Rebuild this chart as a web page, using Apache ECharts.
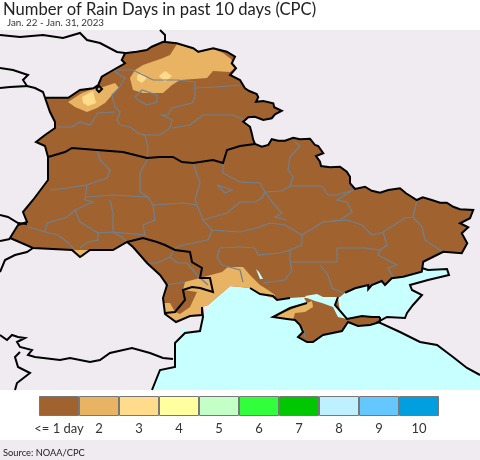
<!DOCTYPE html>
<html><head><meta charset="utf-8">
<style>html,body{margin:0;padding:0;background:#fff}#c{width:480px;height:460px}</style>
<script src="https://cdn.jsdelivr.net/npm/echarts@6/dist/echarts.min.js"></script>
</head><body><div id="c"></div>
<script>
var titleText="Number of Rain Days in past 10 days (CPC)";
var subtitleText="Jan. 22 - Jan. 31, 2023";
var sourceText="Source: NOAA/CPC";
var rainDayLabels=["<= 1 day","2","3","4","5","6","7","8","9","10"];
var rainDayValues=[1,2,3,4,5,6,7,8,9,10];
var rainDayColors=["#A0632F","#E8B464","#FFDC8C","#FFFFA0","#C4FFC8","#32FF3C","#00C800","#BEF0FF","#64C8FF","#00A0E0"];

// lon,lat vertices
var mapExtent=[21.6,56.6,40.8,42.2];
var outlineNorth=[23.40,53.89,24.33,53.89,24.80,54.20,25.33,54.27,25.53,54.40,25.67,54.73,26.13,55.00,26.60,55.27,26.47,55.40,26.60,55.67,27.07,55.73,27.47,55.80,27.67,55.93,28.13,56.13,28.67,56.07,29.33,55.87,29.53,55.73,30.13,55.87,30.67,55.73,31.00,55.53,30.87,55.27,31.04,55.07,30.80,54.80,31.20,54.60,31.40,54.27,31.57,54.16,31.87,54.04,31.93,53.91,31.84,53.73,32.13,53.76,32.53,53.67,32.57,53.51,32.87,53.37,32.60,53.23,32.47,53.07,32.13,53.00,31.80,53.13,31.53,53.11,31.33,52.93,31.60,52.73,31.67,52.47,31.73,52.20,31.80,52.04,32.07,51.93,32.33,52.00,32.47,52.23,32.73,52.17,33.00,52.17,33.33,52.29,33.60,52.23,34.00,52.25,34.20,52.00,34.33,51.96,34.53,51.67,34.24,51.56,34.40,51.33,34.44,51.16,34.80,51.11,35.20,51.13,35.47,50.93,35.60,50.73,35.60,50.47,35.80,50.24,36.20,50.33,36.47,50.17,36.80,50.09,37.13,50.20,37.60,50.27,37.84,50.07,38.27,49.80,38.51,49.91,38.87,49.80,39.20,49.69,39.47,49.69,39.73,49.53,40.00,49.43,40.53,49.40,40.40,49.07,40.00,48.87,40.33,48.71,40.07,48.47,40.29,48.07,40.07,47.67,39.33,47.73,38.93,47.53,38.53,47.33,38.47,46.93,37.73,46.73,37.27,46.67,37.00,46.40,36.87,46.56,36.47,46.40,36.33,46.23,36.33,46.40,35.80,46.27,35.40,46.09];
var outlineCoast=[35.40,46.09,35.20,45.92,34.28,45.92,33.80,45.92,33.20,45.88];
var outlineKherson=[33.20,45.88,32.68,45.80,32.52,45.96,32.00,46.04,31.60,46.28];
var outlineOdesa=[31.60,46.28,30.80,46.36,30.48,46.08,29.92,45.60,29.68,45.52];
var outlineSouthWest=[29.68,45.52,29.68,45.20,29.20,45.16,28.64,44.92,28.20,45.24,28.12,45.88,28.28,46.40,28.00,46.80,27.48,47.28,26.92,47.92,26.68,48.12,26.12,47.80,25.20,47.80,24.80,47.52,24.48,47.80,22.92,47.88,22.00,48.28,22.32,48.80,22.68,48.92,22.52,49.32,22.92,49.80,23.52,50.60,23.52,51.52,23.40,51.96,23.04,52.12,23.40,52.40,23.80,52.68,23.80,52.92,23.60,53.32,23.40,53.89];
var crimeaRing=[33.76,45.88,35.12,45.88,35.20,45.32,35.52,45.04,36.08,45.16,36.48,45.12,36.80,45.12,36.80,44.92,36.40,44.80,35.92,44.76,35.52,44.92,35.28,44.56,34.52,44.40,34.12,44.12,33.88,44.12,33.52,44.32,33.72,44.52,33.60,44.80,33.40,45.00,33.08,45.04,32.52,45.12,33.20,45.48,33.88,45.68];
var sivashRing=[33.80,45.96,34.28,46.04,34.60,45.88,34.92,45.88,35.12,45.92,35.00,45.60,35.48,45.04,35.12,45.12,34.92,45.52,34.48,45.68,34.20,45.76,33.88,45.88];
var seaRing=[27.68,42.20,28.00,43.00,28.60,43.12,28.60,44.08,29.00,44.48,29.60,44.56,29.72,45.12,30.20,46.00,31.60,46.60,35.40,46.40,38.40,47.20,38.72,47.08,39.48,47.12,39.56,46.80,38.72,46.60,38.00,46.40,38.08,46.20,38.48,46.00,38.12,45.60,37.88,45.28,37.80,45.08,37.08,45.12,36.72,44.92,37.60,44.52,38.40,44.12,39.08,44.00,39.72,43.52,40.28,43.08,40.80,42.80,40.80,42.20];
var ringDot=[25.44,54.24,25.56,54.36,25.68,54.24,25.56,54.12,25.44,54.24];
var lakeDanube=[28.80,44.60,29.00,44.72,29.08,44.60,28.92,44.48];
var lakeDnieper=[31.84,47.04,31.96,46.92,32.12,46.64,32.00,46.64];

var zoneNorth2=[28.68,56.04,29.32,55.84,29.52,55.68,30.12,55.84,30.52,55.68,30.84,55.44,30.92,55.28,31.00,55.08,30.80,54.92,30.12,54.96,29.88,54.68,28.80,54.60,28.48,54.40,28.12,54.08,27.32,54.08,26.92,54.20,26.80,54.68,27.00,55.00,27.32,55.20,28.12,55.48,28.40,55.60];
var zoneNorth3a=[27.08,54.80,27.28,54.88,27.48,54.68,27.28,54.48,27.08,54.60];
var zoneNorth3b=[27.96,54.76,28.20,54.96,28.48,54.76,28.20,54.52];
var zoneWest2=[24.32,53.72,24.88,54.08,25.32,54.24,25.60,54.28,26.20,54.48,26.36,54.28,26.08,54.00,25.80,53.68,25.48,53.48,25.08,53.32,24.60,53.52];
var zoneWest3=[24.88,53.92,25.32,54.16,25.44,53.68,25.12,53.56,24.92,53.68];
var zoneCarpath2=[24.56,47.80,25.20,47.80,24.92,47.52,24.80,47.52,24.68,47.64];
var zoneOdesa2=[29.00,46.52,30.48,46.92,30.72,47.12,31.32,47.12,31.60,46.80,32.00,46.40,32.32,46.20,32.60,46.00,32.60,45.84,32.00,46.04,31.60,46.28,30.80,46.36,30.48,46.08,29.92,45.60,29.68,45.52,29.68,45.20,29.20,45.16,28.64,44.92,28.20,45.24,28.12,45.68,28.40,45.68,28.60,45.32,29.00,45.80,28.92,46.20];
var zoneMoldova1=[28.60,45.32,29.00,45.80,28.92,46.20,29.48,46.12,29.20,45.52,28.80,45.24];
var zoneCrimea2=[32.52,45.12,34.08,45.76,34.12,45.52,33.80,45.32,33.40,45.28,33.32,45.00,33.08,45.04];

var blackLines=[
 outlineNorth,outlineKherson,outlineSouthWest,
 [28.00,56.60,28.20,56.40,28.20,56.16],
 [21.60,56.40,22.40,56.32,23.32,56.40,24.12,56.28,24.80,56.48,25.08,56.20,25.60,56.08,26.28,55.72,26.60,55.68],
 [21.60,55.08,22.12,55.00,22.72,54.80,22.52,54.60,22.68,54.36,22.00,54.32,21.60,54.28],
 [22.68,54.36,23.00,54.28,23.32,54.12,23.40,53.89],
 [21.60,49.20,21.92,49.12,22.32,48.88,22.68,48.84],
 [21.60,48.16,22.00,48.24],
 [21.60,46.92,21.80,47.40,22.20,47.60,22.68,47.72,22.92,47.88],
 [21.60,44.40,21.88,44.20,22.08,44.40,22.32,44.32,22.60,44.28,22.28,44.12,22.40,43.92,22.88,43.80,22.72,43.60,23.00,43.52,24.00,43.40,24.40,43.48,25.20,43.32,25.60,43.40,26.00,43.68,26.88,43.88,27.60,43.68,28.12,43.48,28.52,43.44],
 [22.40,43.72,22.20,43.52,22.32,43.12,22.80,42.88,22.28,42.48,22.20,42.20],
 [23.52,51.52,24.20,51.72,24.48,51.88,25.48,51.80,26.52,51.72,27.48,51.48,28.00,51.52,28.52,51.52,28.88,51.32,29.32,51.28,30.12,51.40,30.52,51.28,30.68,51.80,31.20,51.96,31.80,52.04],
 [26.68,48.12,27.32,48.28,27.88,48.12,28.20,48.00,28.60,47.80,29.20,47.72,29.28,47.32,29.68,47.08,29.60,46.68,30.00,46.68,30.12,46.12,29.60,46.28,29.28,46.32,28.92,46.20,29.00,45.80,28.60,45.32,28.20,45.28],
 [27.68,42.20,28.00,43.00,28.60,43.12,28.60,44.08,29.00,44.48,29.60,44.56,29.72,45.12,29.68,45.52],
 [38.48,47.08,38.72,47.00,39.48,47.04,39.56,46.80,38.72,46.60,38.00,46.40,38.08,46.20,38.48,46.00,38.12,45.60,37.88,45.28,37.80,45.08,37.08,45.12,36.72,44.92,37.60,44.52,38.40,44.12,39.08,44.00,39.72,43.52,40.28,43.08,40.80,42.80],
 [36.80,45.12,36.80,44.92,36.40,44.80,35.92,44.76,35.52,44.92,35.28,44.56,34.52,44.40,34.12,44.12,33.88,44.12,33.52,44.32,33.72,44.52,33.60,44.80,33.40,45.00,33.08,45.04,32.52,45.12,33.20,45.48,33.88,45.68],
 [35.12,45.92,35.00,45.60,35.48,45.04,36.08,45.16,36.48,45.12,36.80,45.12],
 ringDot
];
var grayLines=[
 [26.12,55.00,26.40,54.80,26.60,54.68,26.48,54.48,26.36,54.28,26.08,54.00,26.20,53.52,26.40,53.32,26.28,53.00,26.40,52.80,26.80,52.72,27.12,52.48,27.40,52.40,27.52,51.92,27.48,51.48],
 [26.12,55.00,26.92,55.00,27.32,54.80,27.72,54.60,28.68,54.60,29.40,54.52,29.40,53.92,29.28,53.68,28.48,53.48,28.32,53.20,28.08,53.20,28.48,53.00,28.40,52.68,28.00,52.40,27.32,52.40],
 [29.40,54.28,30.28,54.32,31.20,54.40],
 [28.48,52.68,29.20,52.80,29.72,53.20,30.92,53.20,31.40,53.00],
 [27.00,53.92,27.28,54.20,27.88,54.00,27.88,53.72,27.48,53.60,27.12,53.80,27.00,53.92],
 [23.88,52.72,24.48,52.72,24.80,52.92,25.20,52.80,25.52,53.28,26.20,53.32],
 [25.48,51.80,25.60,51.40,26.00,51.00,25.88,50.68,25.08,50.40,25.00,49.80],
 [23.60,50.20,24.28,50.28,25.08,50.40],
 [27.48,51.40,27.20,50.88,27.20,50.12,27.52,49.92,26.12,50.00,25.08,49.92],
 [29.32,51.28,29.60,50.48,29.40,49.80],
 [30.52,51.28,30.52,50.88,31.20,50.52,32.00,50.48,32.20,50.12,32.88,50.16,33.20,50.36,34.48,50.36,34.72,50.00,35.08,50.00,35.72,50.20],
 [26.00,49.80,26.12,49.28,26.12,48.52,26.48,48.32,26.68,48.12],
 [27.52,49.92,27.72,49.60,27.80,49.00,27.32,48.80,27.40,48.40,26.12,48.52,25.52,48.48,25.52,48.20,25.12,48.12,24.80,47.88],
 [23.48,48.88,24.28,49.12,24.60,49.40,24.80,48.92,25.52,48.48],
 [22.72,48.72,23.40,48.52,23.92,48.40,24.28,48.12,24.60,47.80],
 [23.48,48.88,23.40,48.52],
 [24.60,49.40,25.32,49.72,25.00,49.80],
 [27.72,49.60,28.92,49.68,29.48,49.60,29.72,49.00,30.08,48.60,29.92,48.20,28.92,48.00,28.60,47.88],
 [29.40,49.80,29.48,49.60],
 [29.72,49.00,30.68,49.28,31.20,49.72,31.80,49.72,32.08,49.88,32.20,50.12],
 [30.08,48.60,31.20,48.52,31.88,48.68,32.40,48.88,33.00,48.80,33.68,48.40],
 [28.60,47.88,28.40,47.52,27.88,47.28,27.48,47.28],
 [28.40,47.52,28.68,47.28,29.08,47.28,29.48,46.80,29.92,46.40],
 [28.20,46.40,29.00,46.52],
 [30.40,47.88,31.20,47.92,31.80,47.88,31.92,47.60,32.80,47.68,33.20,47.80],
 [30.40,47.88,30.28,47.52,30.48,47.20,31.20,47.00,31.32,46.52],
 [34.52,48.92,35.20,49.00,35.68,49.32,35.48,49.72,35.08,49.80,35.72,50.20],
 [38.28,49.80,38.12,49.12,37.80,49.08,36.92,48.52,36.48,48.40,36.08,48.80,35.48,49.00,34.52,48.92,34.00,48.60,33.68,48.40,33.68,48.00,33.20,47.80,33.20,47.32,33.28,47.00,33.00,46.60,32.12,46.48],
 [38.12,49.12,38.48,48.72,38.60,48.20,39.32,47.72],
 [36.92,48.52,37.08,48.00,36.80,47.80,36.20,47.88,35.08,47.88,35.08,47.32,33.20,47.32],
 [36.80,47.80,36.72,47.60,37.48,47.20,37.12,47.08,37.32,46.72],
 [34.40,47.20,34.72,46.80,34.88,46.28,35.32,46.08],
 [33.20,50.36,33.32,50.72,33.12,51.00,33.20,51.52,33.60,51.96,33.40,52.12],
 [32.20,50.12,32.52,49.68,32.88,49.28,32.60,49.12,33.08,49.00],
 [33.72,44.68,33.80,44.28],
 [30.28,50.40,30.88,50.20,30.60,50.08,30.28,50.40]
];

function pairs(a){var o=[];for(var i=0;i<a.length;i+=2)o.push([a[i],a[i+1]]);return o;}
function ring(a){var p=pairs(a);p.push(p[0]);return p;}
var e=mapExtent;
var landColor="#EFEBF0",seaColor="#C8FFFF";
var outline=[].concat(outlineNorth,outlineCoast,outlineKherson,outlineOdesa,outlineSouthWest);
var zones=[
 ["land",[e[0],e[1],e[2],e[1],e[2],e[3],e[0],e[3]],landColor],
 ["sea",seaRing,seaColor],
 ["lakeDanube",lakeDanube,seaColor],
 ["country",outline,rainDayColors[0]],
 ["crimea",crimeaRing,rainDayColors[0]],
 ["sivash",sivashRing,seaColor],
 ["dot",ringDot,landColor],
 ["n2",zoneNorth2,rainDayColors[1]],
 ["n3a",zoneNorth3a,rainDayColors[2]],
 ["n3b",zoneNorth3b,rainDayColors[2]],
 ["w2",zoneWest2,rainDayColors[1]],
 ["w3",zoneWest3,rainDayColors[2]],
 ["c2",zoneCarpath2,rainDayColors[1]],
 ["o2",zoneOdesa2,rainDayColors[1]],
 ["m1",zoneMoldova1,rainDayColors[0]],
 ["k2",zoneCrimea2,rainDayColors[1]],
 ["lakeDnieper",lakeDnieper,seaColor]
];
echarts.registerMap("basemap",{type:"FeatureCollection",features:zones.map(function(z){
 return {type:"Feature",properties:{name:z[0]},geometry:{type:"Polygon",coordinates:[ring(z[1])]}};
})});
var chart=echarts.init(document.getElementById("c"),null,{renderer:"canvas"});
var F='Lato,"Noto Sans",sans-serif';
chart.setOption({
 animation:false,
 title:[
  {text:titleText,left:-2,top:-4,textStyle:{fontFamily:F,fontSize:16.6,fontWeight:"normal",color:"#222"}},
  {text:subtitleText,left:2,top:13,textStyle:{fontFamily:F,fontSize:9.8,fontWeight:"normal",color:"#333"}},
  {text:sourceText,left:-2,top:443,textStyle:{fontFamily:F,fontSize:9.3,fontWeight:"normal",color:"#222"}}
 ],
 graphic:[{type:"rect",z:-10,shape:{x:0,y:440,width:480,height:20},style:{fill:landColor}}],
 geo:{map:"basemap",roam:false,silent:true,left:0,top:30,width:480,height:360,aspectScale:1,
  boundingCoords:[[e[0],e[1]],[e[2],e[3]]],
  label:{show:false},emphasis:{disabled:true},select:{disabled:true},
  itemStyle:{borderWidth:0,areaColor:landColor,borderColor:"transparent"},
  regions:zones.map(function(z){return {name:z[0],silent:true,itemStyle:{areaColor:z[2],borderWidth:0,borderColor:z[2]}};})},
 grid:{left:39,top:396,width:400,height:20,containLabel:false},
 xAxis:{type:"category",data:rainDayLabels,axisLine:{show:false},axisTick:{show:false},
  axisLabel:{interval:0,margin:6,fontFamily:F,fontSize:13,color:"#333"}},
 yAxis:{type:"value",min:0,max:1,show:false},
 series:[
  {type:"bar",barCategoryGap:0,barWidth:"100%",silent:true,
   data:rainDayValues.map(function(v,i){return {value:1,rainDays:v,itemStyle:{color:rainDayColors[i],borderColor:"#777",borderWidth:1}};})},
  {type:"lines",coordinateSystem:"geo",polyline:true,silent:true,z:3,
   lineStyle:{color:"#708090",width:1.2,opacity:1},
   data:grayLines.map(function(a){return {coords:pairs(a)};})},
  {type:"lines",coordinateSystem:"geo",polyline:true,silent:true,z:4,
   lineStyle:{color:"#000",width:2,opacity:1},
   data:blackLines.map(function(a){return {coords:pairs(a)};})}
 ]
});
</script></body></html>
